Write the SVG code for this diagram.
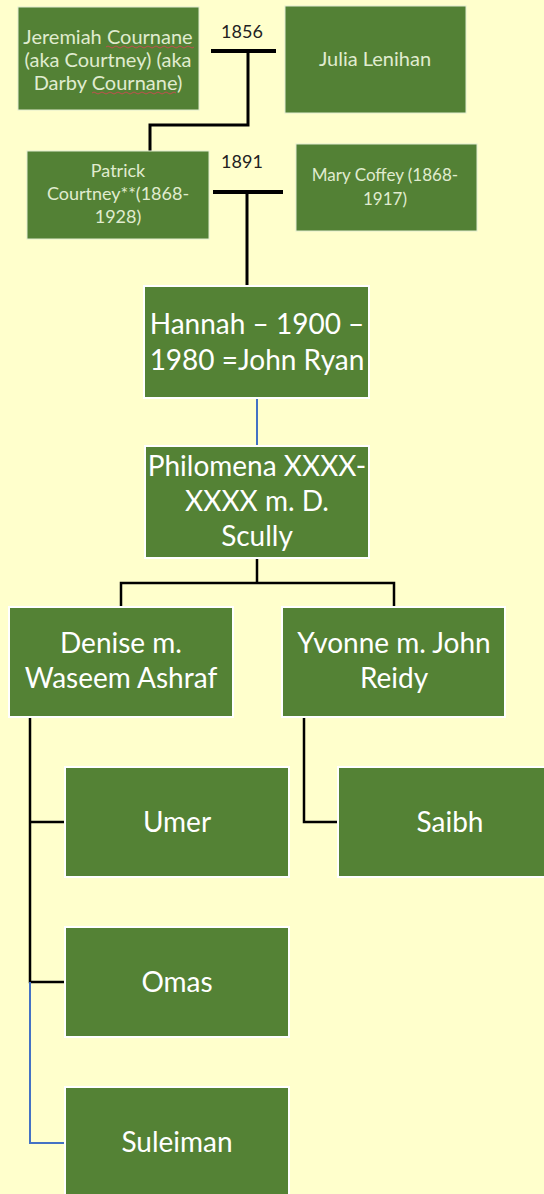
<svg xmlns="http://www.w3.org/2000/svg" width="544" height="1194" viewBox="0 0 544 1194">
<style>
.bg{fill:#FFFFCC}
.box{fill:#548235;stroke:#ffffff;stroke-width:2}
.old{fill:#538135;stroke:#e2ebcf;stroke-width:1}
.t{font-family:Lato,"Liberation Sans",sans-serif;fill:#ffffff;text-anchor:middle;font-size:28px}
.s{font-family:Lato,"Liberation Sans",sans-serif;fill:#e0ecd0;text-anchor:middle;font-size:17px}
.yr{font-family:Lato,"Liberation Sans",sans-serif;fill:#222222;text-anchor:middle;font-size:18px}
.k{stroke:#000000;stroke-width:2.5;fill:none}
.kt{stroke:#000000;stroke-width:3;fill:none}
.m{stroke:#000000;stroke-width:4;fill:none}
.b{stroke:#4472C4;stroke-width:2;fill:none}
.sq{stroke:#c0504d;stroke-width:1;fill:none}
</style>
<rect class="bg" x="0" y="0" width="544" height="1194"/>
<g id="connectors">
<path class="m" d="M211 51H276"/>
<path class="kt" d="M248 51V125H150V151"/>
<path class="m" d="M213 192H283"/>
<path class="kt" d="M247 192V287"/>
<path class="b" d="M257 398V446"/>
<path class="k" d="M257 558V583M121 607V583H394V607"/>
<path class="k" d="M30 717V982H66M30 822H65"/>
<path class="b" d="M30 982V1143H65"/>
<path class="k" d="M304 717V822H338"/>
</g>
<g id="label-1856"><text class="yr" x="242" y="38">1856</text></g>
<g id="label-1891"><text class="yr" x="242" y="168">1891</text></g>
<g id="jeremiah">
<rect class="old" x="18" y="7" width="181" height="103"/>
<text class="s" x="108" y="44" style="font-size:20px">Jeremiah Cournane</text>
<text class="s" x="108" y="67" style="font-size:20px">(aka Courtney) (aka</text>
<text class="s" x="108" y="90" style="font-size:20px">Darby Cournane)</text>
<path class="sq" d="M106 47q2 -2 4 0t4 0t4 0t4 0t4 0t4 0t4 0t4 0t4 0t4 0t4 0t4 0t4 0t4 0t4 0t4 0t4 0t4 0t4 0t4 0t4 0t4 0"/>
<path class="sq" d="M92 93q2 -2 4 0t4 0t4 0t4 0t4 0t4 0t4 0t4 0t4 0t4 0t4 0t4 0t4 0t4 0t4 0t4 0t4 0t4 0t4 0t4 0t4 0"/>
</g>
<g id="julia">
<rect class="old" x="285" y="6" width="181" height="107"/>
<text class="s" x="375" y="66" style="font-size:20px">Julia Lenihan</text>
</g>
<g id="patrick">
<rect class="old" x="27" y="151" width="182" height="88"/>
<text class="s" x="118" y="177" style="font-size:18px">Patrick</text>
<text class="s" x="118" y="200" style="font-size:18px">Courtney**(1868-</text>
<text class="s" x="118" y="223" style="font-size:18px">1928)</text>
</g>
<g id="mary">
<rect class="old" x="296" y="144" width="181" height="87"/>
<text class="s" x="385" y="181">Mary Coffey (1868-</text>
<text class="s" x="385" y="205">1917)</text>
</g>
<g id="hannah">
<rect class="box" x="144" y="286" width="225" height="112"/>
<text class="t" x="257" y="334">Hannah – 1900 –</text>
<text class="t" x="257" y="370">1980 =John Ryan</text>
</g>
<g id="philomena">
<rect class="box" x="145" y="446" width="224" height="112"/>
<text class="t" x="257" y="476">Philomena XXXX-</text>
<text class="t" x="257" y="511">XXXX m. D.</text>
<text class="t" x="257" y="546">Scully</text>
</g>
<g id="denise">
<rect class="box" x="9" y="607" width="224" height="110"/>
<text class="t" x="121" y="653">Denise m.</text>
<text class="t" x="121" y="688">Waseem Ashraf</text>
</g>
<g id="yvonne">
<rect class="box" x="282" y="607" width="223" height="110"/>
<text class="t" x="394" y="653">Yvonne m. John</text>
<text class="t" x="394" y="688">Reidy</text>
</g>
<g id="umer">
<rect class="box" x="65" y="767" width="224" height="110"/>
<text class="t" x="177" y="832">Umer</text>
</g>
<g id="saibh">
<rect class="box" x="338" y="767" width="224" height="110"/>
<text class="t" x="450" y="832">Saibh</text>
</g>
<g id="omas">
<rect class="box" x="65" y="927" width="224" height="110"/>
<text class="t" x="177" y="992">Omas</text>
</g>
<g id="suleiman">
<rect class="box" x="65" y="1087" width="224" height="110"/>
<text class="t" x="177" y="1152">Suleiman</text>
</g>
</svg>
